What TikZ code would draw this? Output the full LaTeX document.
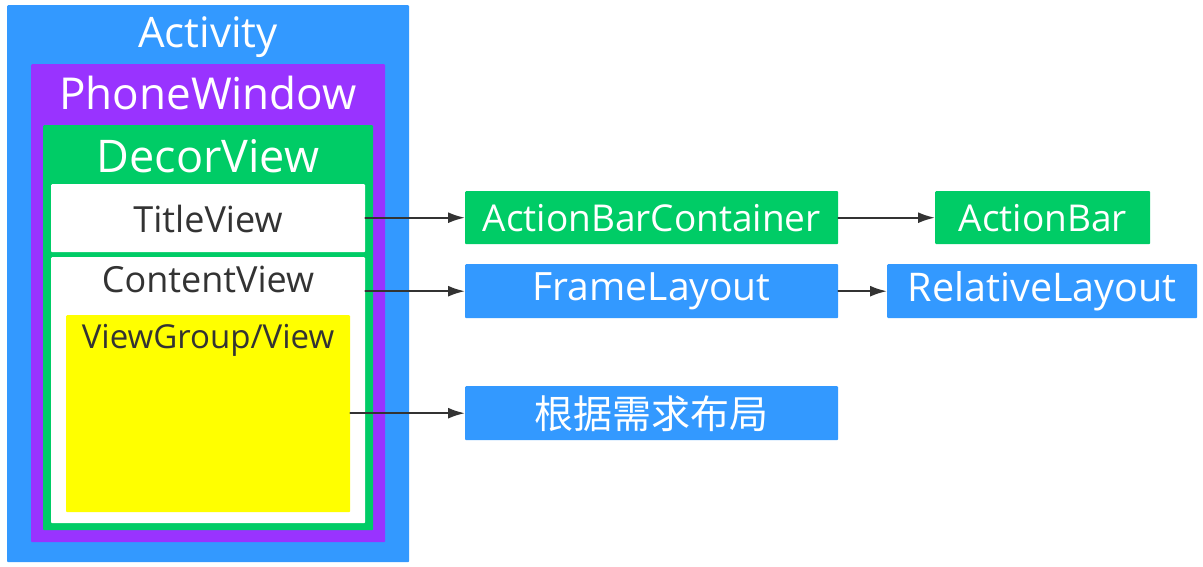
\documentclass[tikz,border=0pt]{standalone}
\usepackage{fontspec}
\setmainfont{Open Sans}
\newfontfamily\cjk{Noto Sans CJK SC}
\usepackage{tikz}
\usetikzlibrary{arrows.meta}
\definecolor{actblue}{RGB}{51,153,255}
\definecolor{winpurple}{RGB}{153,51,255}
\definecolor{decgreen}{RGB}{0,204,102}
\definecolor{vgyellow}{RGB}{255,255,0}
\definecolor{txtgray}{RGB}{51,51,51}
\newcommand{\fs}[1]{\fontsize{#1}{#1}\selectfont}

\begin{document}
\begin{tikzpicture}[x=1pt,y=-1pt,line cap=round]
	\tikzstyle{box}=[rectangle,rounded corners=1pt,inner sep=0pt,anchor=north west];
	\tikzstyle{lbl}=[inner sep=0pt,anchor=base,text=white];
	\tikzstyle{dark}=[inner sep=0pt,anchor=base,text=txtgray];
	\tikzstyle{link}=[draw=txtgray,line width=2pt,-{Latex[length=17pt,width=11pt]}];
	\useasboundingbox (0,0) rectangle (1203,566);
	% nested boxes on the left
	\node[box,fill=actblue,minimum width=402pt,minimum height=557pt]    (act) at (7,5)    {};
	\node[box,fill=winpurple,minimum width=354pt,minimum height=478pt]  (win) at (31,64)  {};
	\node[box,fill=decgreen,minimum width=330pt,minimum height=405pt]   (dec) at (43,125) {};
	\node[box,fill=white,minimum width=314pt,minimum height=68pt]       (tv)  at (51,184) {};
	\node[box,fill=white,minimum width=314pt,minimum height=266pt]      (cv)  at (51,257) {};
	\node[box,fill=vgyellow,minimum width=284pt,minimum height=197pt]   (vg)  at (66,315) {};
	\node[lbl]  (actl) at (208,47)  {\fs{42}Activity};
	\node[lbl]  (winl) at (208,109) {\fs{44}PhoneWindow};
	\node[lbl]  (decl) at (208,172) {\fs{45}DecorView};
	\node[dark] (tvl)  at (208,232) {\fs{36}TitleView};
	\node[dark] (cvl)  at (208,292) {\fs{36}ContentView};
	\node[dark] (vgl)  at (208,348) {\fs{33}ViewGroup/View};
	% boxes on the right
	\node[box,fill=decgreen,minimum width=373pt,minimum height=53pt,text=white] (abc) at (465,191)
		{\makebox[373pt]{\fs{37}ActionBarContainer}};
	\node[box,fill=decgreen,minimum width=215pt,minimum height=53pt,text=white] (ab)  at (935,191)
		{\makebox[215pt]{\fs{37}ActionBar}};
	\node[box,fill=actblue,minimum width=373pt,minimum height=54pt,text=white]  (fl)  at (465,264)
		{\makebox[373pt]{\fs{39}FrameLayout}};
	\node[box,fill=actblue,minimum width=310pt,minimum height=54pt,text=white]  (rl)  at (887,264)
		{\makebox[310pt]{\fs{39.5}RelativeLayout}};
	\node[box,fill=actblue,minimum width=373pt,minimum height=54pt,text=white]  (need) at (465,386)
		{\makebox[373pt]{\fs{39}\cjk 根据需求布局}};
	% connectors
	\draw[link] (tv.east |- abc.west) -- (abc.west);
	\draw[link] (cv.east |- fl.west) -- (fl.west);
	\draw[link] (vg.east |- need.west) -- (need.west);
	\draw[link] (abc.east) -- (ab.west);
	\draw[link] (fl.east) -- (rl.west);
\end{tikzpicture}
\end{document}
